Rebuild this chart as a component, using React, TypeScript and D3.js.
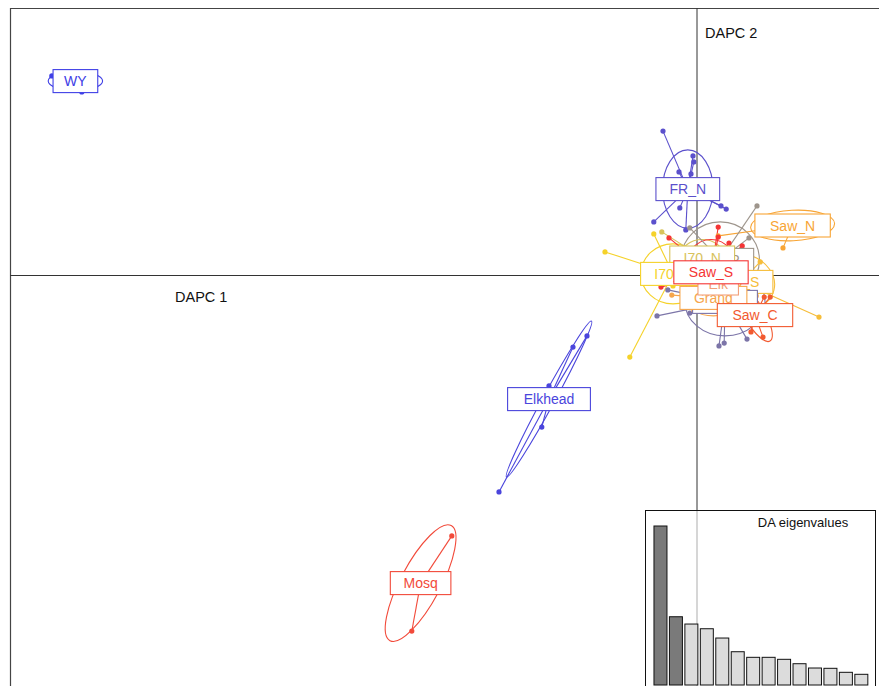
import React, { useEffect, useRef } from "react";
import * as d3 from "d3";

const W = 879;
const H = 686;

// ---- group data (DAPC scores) ----
const groupNames = ["WY", "FR_N", "Elkhead", "Mosq", "Saw_N", "Ute_P", "I70_N", "I70_C", "I70_S", "Elk_N", "Grand", "Elk", "Saw_S", "Saw_C"];
const groupColors = ["#4040e6", "#5b50cc", "#4a45dc", "#f24a3a", "#f8a535", "#9e958c", "#d8c35c", "#f5d22a", "#f6bd3a", "#7c75a8", "#f6a64c", "#f2a07a", "#f53535", "#f25a30"];
const centroidX = [-15.54, -0.23, -3.70, -6.91, 2.39, 0.58, 0.13, -0.60, 1.10, 0.70, 0.41, 0.53, 0.35, 1.45];
const centroidY = [4.86, 2.16, -3.09, -7.69, 1.25, 0.39, 0.45, 0.04, -0.16, -0.66, -0.56, -0.20, 0.08, -0.99];
const ellipseA = [0.68, 0.98, 2.22, 1.63, 1.05, 0.98, 0.55, 0.80, 0.85, 1.00, 0.70, 0.35, 0.82, 0.75];
const ellipseB = [0.24, 0.63, 0.15, 0.50, 0.38, 0.95, 0.45, 0.75, 0.70, 0.85, 0.45, 0.25, 0.68, 0.25];
const ellipseAngle = [0, 90, 61.4, 62, 3, 0, 0, 0, -15, 0, 0, 0, 90, -60];

const ptsWY = [[-16.13, 4.99], [-15.38, 4.59], [-15.10, 4.99]];
const ptsFRN = [[-0.85, 3.61], [-0.45, 2.59], [-0.10, 2.99], [-0.08, 2.84], [-0.15, 2.54], [0.60, 1.74], [0.73, 1.66], [-1.08, 1.34], [-0.43, 1.69], [-0.28, 1.14]];
const ptsElkhead = [[-2.75, -1.51], [-3.10, -1.79], [-3.70, -2.76], [-3.88, -3.79], [-4.95, -5.41]];
const ptsMosq = [[-6.13, -6.51], [-7.13, -8.89], [-7.48, -7.66]];
const ptsSawN = [[2.15, 0.69], [0.53, 0.99], [2.95, 1.34], [3.23, 1.46]];
const ptsUteP = [[1.50, 1.74], [1.30, 0.94], [-0.18, 1.19], [0.20, -0.36]];
const ptsI70N = [[-0.88, 1.09], [0.08, 0.64], [0.70, 0.34]];
const ptsI70C = [[-2.30, 0.59], [-1.08, 1.04], [-0.60, -0.26], [-1.68, -2.04], [-0.18, 0.14], [0.08, -0.11]];
const ptsI70S = [[3.05, -1.04], [1.58, 0.34], [0.95, -0.40]];
const ptsElkN = [[-1.00, -1.01], [-0.73, -0.36], [-0.18, -0.94], [0.58, -1.06], [0.55, -1.76], [0.68, -1.69], [1.25, -1.59], [1.38, -0.56]];
const ptsGrand = [[-0.63, -0.49], [1.48, -0.51], [-0.08, -0.86]];
const ptsElk = [[0.23, -0.36], [0.83, -0.11]];
const ptsSawS = [[0.53, 1.21], [0.53, 0.96], [-0.70, 0.94], [1.13, 0.74], [0.80, 0.81], [-0.90, -0.29], [0.20, -0.61], [0.45, -0.74]];
const ptsSawC = [[1.35, -1.41], [1.65, -1.54], [1.68, -0.54], [1.83, -0.54], [1.18, -0.86]];
const groupPoints = [ptsWY, ptsFRN, ptsElkhead, ptsMosq, ptsSawN, ptsUteP, ptsI70N, ptsI70C, ptsI70S, ptsElkN, ptsGrand, ptsElk, ptsSawS, ptsSawC];

// ---- DA eigenvalues ----
const eigenvalues = [159.1, 68.3, 61.0, 56.3, 47.0, 33.3, 27.7, 27.7, 25.7, 21.3, 17.0, 16.7, 12.7, 10.7];
const nRetained = 2;

const axisLabels = ["DAPC 1", "DAPC 2"];
const insetTitle = "DA eigenvalues";

export default function App() {
  const ref = useRef<SVGSVGElement | null>(null);

  useEffect(() => {
    const svg = d3.select(ref.current);
    svg.selectAll("*").remove();

    const x = d3.scaleLinear().domain([-17.175, 4.55]).range([10, 879]);
    const y = d3.scaleLinear().domain([6.6875, -10.2625]).range([8, 686]);
    const k = x(1) - x(0);
    const font = "'Liberation Sans', Arial, sans-serif";

    // frame
    svg.append("line").attr("x1", 10).attr("x2", W).attr("y1", 8.5).attr("y2", 8.5).attr("stroke", "#444").attr("stroke-width", 1.2);
    svg.append("line").attr("x1", 10.5).attr("x2", 10.5).attr("y1", 8).attr("y2", H).attr("stroke", "#444").attr("stroke-width", 1.2);

    // axes through origin
    svg.append("line").attr("x1", 10).attr("x2", W).attr("y1", y(0)).attr("y2", y(0)).attr("stroke", "#333").attr("stroke-width", 1);
    svg.append("line").attr("x1", x(0)).attr("x2", x(0)).attr("y1", 8).attr("y2", H).attr("stroke", "#333").attr("stroke-width", 1);

    svg.append("text").attr("x", 175).attr("y", 302).text(axisLabels[0])
      .attr("font-family", font).attr("font-size", 14.5).attr("fill", "#111");
    svg.append("text").attr("x", 705).attr("y", 38).text(axisLabels[1])
      .attr("font-family", font).attr("font-size", 14.5).attr("fill", "#111");

    const marks = svg.append("g");
    // ellipses
    groupNames.forEach((g, i) => {
      marks.append("ellipse")
        .attr("transform", `translate(${x(centroidX[i])},${y(centroidY[i])}) rotate(${-ellipseAngle[i]})`)
        .attr("rx", ellipseA[i] * k).attr("ry", ellipseB[i] * k)
        .attr("fill", "none").attr("stroke", groupColors[i]).attr("stroke-width", 1.1);
    });
    // stars
    groupNames.forEach((g, i) => {
      groupPoints[i].forEach((p) => {
        marks.append("line")
          .attr("x1", x(centroidX[i])).attr("y1", y(centroidY[i]))
          .attr("x2", x(p[0])).attr("y2", y(p[1]))
          .attr("stroke", groupColors[i]).attr("stroke-width", 1.1);
      });
    });
    // points
    groupNames.forEach((g, i) => {
      groupPoints[i].forEach((p) => {
        marks.append("circle").attr("cx", x(p[0])).attr("cy", y(p[1])).attr("r", 2.6)
          .attr("fill", groupColors[i]);
      });
    });
    // labels
    groupNames.forEach((g, i) => {
      const lg = svg.append("g");
      const cx = x(centroidX[i]);
      const cy = y(centroidY[i]);
      const rect = lg.append("rect");
      const t = lg.append("text").attr("x", cx).attr("y", cy + 5).attr("text-anchor", "middle")
        .attr("font-family", font).attr("font-size", 14)
        .attr("fill", groupColors[i]).text(g);
      const tw = (t.node() as SVGTextElement).getComputedTextLength();
      const bw = tw * 1.36 + 14;
      rect.attr("x", cx - bw / 2).attr("y", cy - 11.5).attr("width", bw).attr("height", 23)
        .attr("fill", "white").attr("stroke", groupColors[i]).attr("stroke-width", 1.1);
    });

    // inset: eigenvalues
    const inset = svg.append("g");
    inset.append("rect").attr("x", 645.5).attr("y", 510.5).attr("width", 230).attr("height", 190)
      .attr("fill", "white").attr("fill-opacity", 0.6).attr("stroke", "#111").attr("stroke-width", 1);
    const xb = d3.scaleBand<number>().domain(eigenvalues.map((_, i) => i)).range([651.5, 870.3]).paddingInner(0.159).paddingOuter(0.16);
    const yb = d3.scaleLinear().domain([0, d3.max(eigenvalues) as number]).range([685, 526]);
    inset.selectAll("rect.bar").data(eigenvalues).enter().append("rect").attr("class", "bar")
      .attr("x", (_, i) => xb(i) as number).attr("width", xb.bandwidth())
      .attr("y", (d) => yb(d)).attr("height", (d) => yb(0) - yb(d))
      .attr("fill", (_, i) => (i < nRetained ? "#7a7a7a" : "#dcdcdc"))
      .attr("stroke", "#111").attr("stroke-width", 1);
    inset.append("text").attr("x", 803).attr("y", 527).attr("text-anchor", "middle")
      .attr("font-family", font).attr("font-size", 13)
      .attr("fill", "#111").text(insetTitle);
  }, []);

  return (
    <svg ref={ref} width={W} height={H} style={{ position: "absolute", left: 0, top: 0, background: "white" }} />
  );
}
